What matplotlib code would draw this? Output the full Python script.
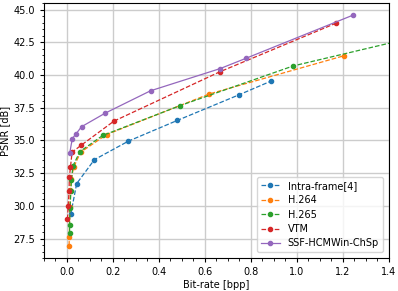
import matplotlib
matplotlib.use("Agg")
import matplotlib.pyplot as plt

# rate-distortion points
intra_bpp = [0.017, 0.043, 0.12, 0.268, 0.48, 0.747, 0.889]
intra_psnr = [29.34, 31.7, 33.53, 34.95, 36.53, 38.48, 39.55]

h264_bpp = [0.01, 0.011, 0.013, 0.016, 0.019, 0.03, 0.06, 0.173, 0.62, 1.205]
h264_psnr = [26.95, 27.65, 29.9, 31.2, 32.05, 32.95, 34.1, 35.45, 38.56, 41.48]

h265_bpp = [0.012, 0.012, 0.014, 0.018, 0.02, 0.027, 0.057, 0.156, 0.493, 0.984, 1.8]
h265_psnr = [27.95, 28.5, 29.8, 31.15, 31.95, 33.05, 34.15, 35.38, 37.67, 40.7, 44.1]

vtm_bpp = [0.003, 0.006, 0.010, 0.011, 0.016, 0.023, 0.063, 0.205, 0.665, 1.169]
vtm_psnr = [28.98, 30.0, 31.16, 32.17, 32.96, 34.1, 34.64, 36.48, 40.25, 43.96]

ssf_bpp = [0.013, 0.024, 0.04, 0.064, 0.168, 0.364, 0.667, 0.781, 1.246]
ssf_psnr = [34.05, 35.15, 35.5, 36.05, 37.1, 38.8, 40.5, 41.3, 44.6]

SERIES = [
    ("Intra-frame[4]", intra_bpp, intra_psnr, "tab:blue", "--"),
    ("H.264", h264_bpp, h264_psnr, "tab:orange", "--"),
    ("H.265", h265_bpp, h265_psnr, "tab:green", "--"),
    ("VTM", vtm_bpp, vtm_psnr, "tab:red", "--"),
    ("SSF-HCMWin-ChSp", ssf_bpp, ssf_psnr, "tab:purple", "-"),
]


def main():
    fig = plt.figure(figsize=(3.98, 2.91), dpi=100)
    ax = fig.add_axes([0.11, 0.113, 0.867, 0.876])

    for label, x, y, color, ls in SERIES:
        ax.plot(x, y, ls, color=color, marker="o", markersize=3,
                linewidth=0.9, label=label)

    ax.set_xlim(-0.1, 1.4)
    ax.set_ylim(26.0, 45.5)
    ax.minorticks_on()
    ax.grid(True, which="major", color="#cccccc", linewidth=1.0)
    ax.set_axisbelow(True)
    ax.tick_params(labelsize=7, which="both")
    ax.tick_params(which="major", length=3)
    ax.tick_params(which="minor", length=1.8)
    ax.set_xlabel("Bit-rate [bpp]", fontsize=7, labelpad=2)
    ax.set_ylabel("PSNR [dB]", fontsize=7, labelpad=2)
    ax.legend(loc="lower right", fontsize=7, handlelength=2.0,
              borderaxespad=0.6, labelspacing=0.45)

    fig.savefig("out.png", dpi=100)
    plt.close(fig)


if __name__ == "__main__":
    main()
